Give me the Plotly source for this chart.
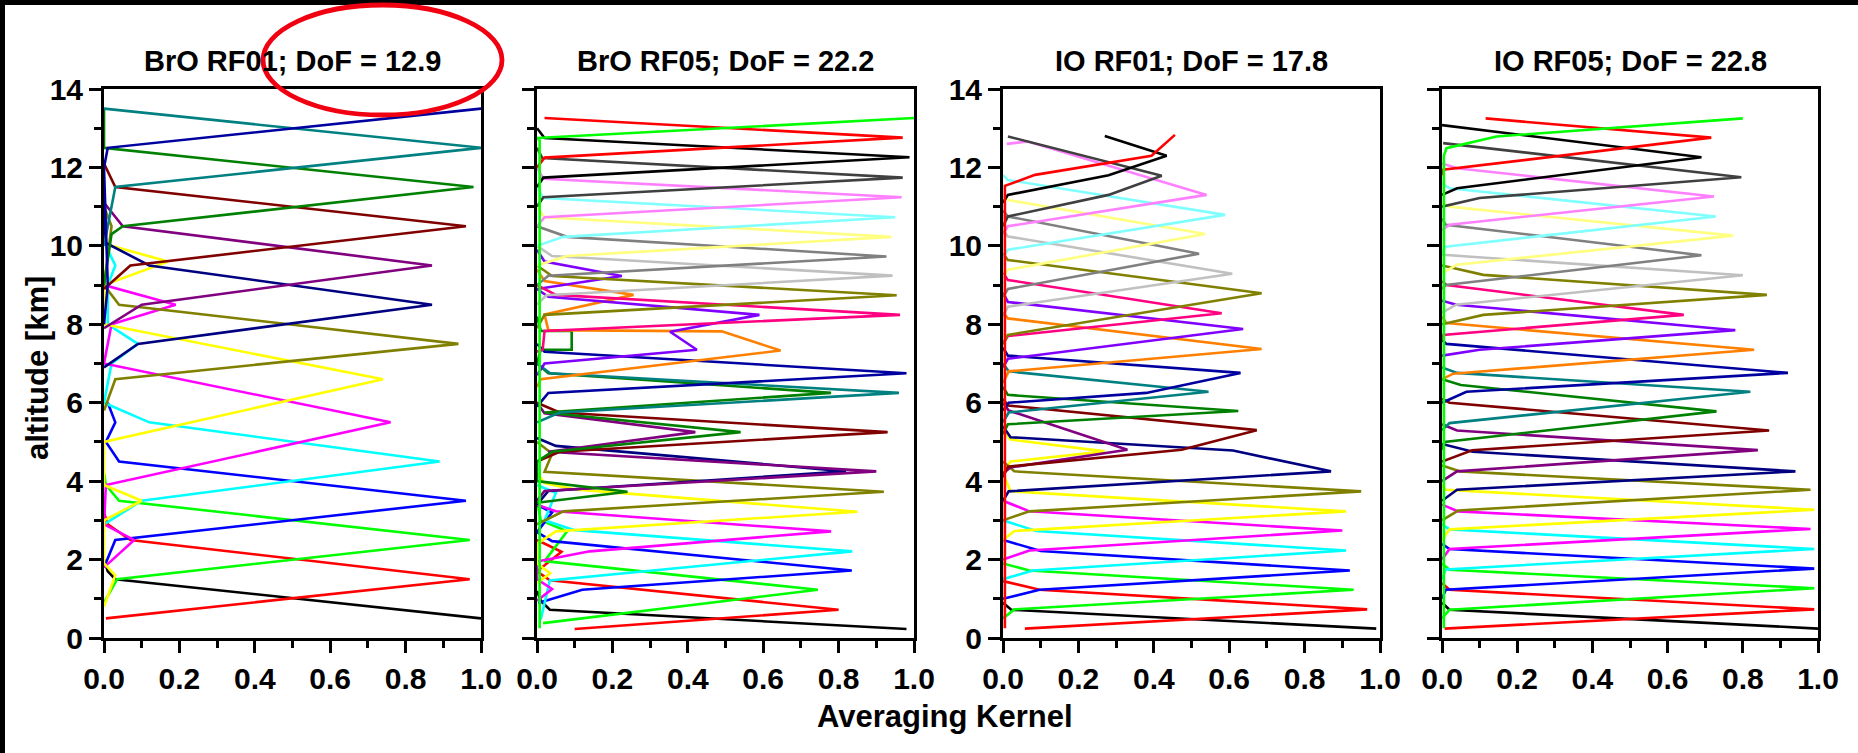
import plotly.graph_objects as go

W, H = 1858, 753
FONT = "Liberation Sans, Arial, sans-serif"

# Origin-style increment colours, one per retrieval level (bottom to top)
COLORS = ["#000000", "#FF0000", "#00FF00", "#0000FF", "#00FFFF", "#FF00FF", "#FFFF00",
          "#808000", "#000080", "#800080", "#800000", "#008000", "#008080", "#0000A0",
          "#FF8000", "#8000FF", "#FF0080", "#808000", "#C0C0C0", "#808080", "#FFFF80",
          "#80FFFF", "#FF80FF", "#404040", "#000000", "#FF0000", "#00FF00"]

TITLES = ["BrO RF01; DoF = 12.9", "BrO RF05; DoF = 22.2", "IO RF01; DoF = 17.8", "IO RF05; DoF = 22.8"]
X_TICKS = [0.0, 0.2, 0.4, 0.6, 0.8, 1.0]
Y_TICKS = [0, 2, 4, 6, 8, 10, 12, 14]

# Averaging-kernel curves: (AK value, altitude km) points, one curve per level
BRO_RF01 = [
    [(1.00, 0.5), (0.03, 1.5), (0.01, 1.7), (0.0, 2.0)],
    [(0.005, 0.5), (0.97, 1.5), (0.07, 2.5), (0.01, 2.9), (0.0, 3.2)],
    [(0.0, 0.9), (0.035, 1.5), (0.97, 2.5), (0.04, 3.5), (0.005, 3.9), (0.0, 4.2)],
    [(0.0, 1.8), (0.03, 2.5), (0.96, 3.5), (0.04, 4.5), (0.005, 5.0), (0.03, 5.5), (0.01, 6.0)],
    [(0.0, 2.9), (0.10, 3.5), (0.89, 4.5), (0.12, 5.5), (0.0, 6.0), (0.02, 7.0), (0.09, 7.5),
     (0.01, 8.0), (0.01, 9.0), (0.03, 9.5), (0.0, 10.1)],
    [(0.0, 1.8), (0.08, 2.5), (0.0, 2.9), (0.005, 3.9), (0.76, 5.5), (0.0, 7.0), (0.02, 8.0),
     (0.19, 8.5), (0.0, 9.0)],
    [(0.0, 0.8), (0.03, 1.6), (0.0, 1.9), (0.0, 3.0), (0.10, 3.5), (0.0, 3.9), (0.0, 5.0),
     (0.74, 6.6), (0.0, 8.0), (0.0, 9.0), (0.17, 9.6), (0.02, 10.0)],
    [(0.0, 5.8), (0.03, 6.6), (0.94, 7.5), (0.04, 8.5), (0.0, 9.0), (0.02, 10.5), (0.0, 11.0)],
    [(0.0, 6.9), (0.09, 7.5), (0.87, 8.5), (0.12, 9.5), (0.0, 10.1), (0.0, 11.0)],
    [(0.0, 7.9), (0.10, 8.5), (0.87, 9.5), (0.05, 10.5), (0.0, 11.1)],
    [(0.0, 8.9), (0.07, 9.5), (0.96, 10.5), (0.03, 11.5), (0.0, 12.1)],
    [(0.0, 9.0), (0.02, 10.3), (0.05, 10.5), (0.98, 11.5), (0.0, 12.5), (0.0, 13.5)],
    [(0.0, 10.0), (0.03, 11.5), (1.0, 12.5), (0.0, 13.5)],
    [(0.0, 8.0), (0.01, 9.0), (0.0, 12.0), (0.01, 12.5), (1.0, 13.5)],
]

BRO_RF05 = [
    [(0.98, 0.23), (0.034, 0.72), (0.01, 0.95), (0.0, 1.2)],
    [(0.10, 0.23), (0.80, 0.72), (0.034, 1.47), (0.0, 1.7), (0.065, 2.2), (0.0, 2.5)],
    [(0.016, 0.38), (0.745, 1.23), (0.02, 1.96), (0.08, 2.72), (0.01, 3.0), (0.0, 3.5)],
    [(0.003, 0.89), (0.12, 1.23), (0.835, 1.72), (0.04, 2.47), (0.0, 2.7), (0.04, 3.2), (0.0, 3.4)],
    [(0.01, 0.47), (0.034, 1.47), (0.836, 2.21), (0.10, 2.75), (0.02, 3.0), (0.05, 3.7), (0.0, 3.9)],
    [(0.0, 0.95), (0.04, 1.25), (0.0, 1.5), (0.0, 1.95), (0.14, 2.21), (0.78, 2.72), (0.05, 3.23), (0.0, 3.4)],
    [(0.0, 1.4), (0.035, 1.65), (0.0, 1.9), (0.0, 2.4), (0.05, 2.72), (0.85, 3.22), (0.10, 3.79),
     (0.02, 3.95), (0.0, 4.2)],
    [(0.0, 2.9), (0.07, 3.23), (0.92, 3.73), (0.02, 4.24), (0.04, 4.7), (0.0, 5.0)],
    [(0.0, 3.4), (0.03, 3.75), (0.82, 4.25), (0.05, 4.9), (0.0, 5.1)],
    [(0.0, 3.5), (0.02, 3.75), (0.90, 4.25), (0.03, 4.75), (0.42, 5.25), (0.02, 5.73), (0.0, 6.0)],
    [(0.0, 4.5), (0.06, 4.75), (0.93, 5.25), (0.06, 5.75), (0.0, 6.0)],
    [(0.0, 3.45), (0.24, 3.73), (0.0, 4.0), (0.0, 4.5), (0.04, 4.75), (0.54, 5.25), (0.02, 5.75),
     (0.78, 6.25), (0.03, 6.75), (0.0, 7.0), (0.01, 7.35), (0.092, 7.35), (0.092, 7.83),
     (0.01, 7.83), (0.0, 8.2)],
    [(0.0, 5.5), (0.06, 5.75), (0.96, 6.25), (0.035, 6.75), (0.0, 7.0)],
    [(0.0, 5.9), (0.03, 6.25), (0.98, 6.75), (0.02, 7.3), (0.0, 7.5)],
    [(0.0, 6.4), (0.01, 6.6), (0.646, 7.33), (0.49, 7.82), (0.03, 7.85), (0.02, 8.25), (0.256, 8.75),
     (0.02, 9.1), (0.0, 9.4)],
    [(0.0, 6.7), (0.02, 7.0), (0.424, 7.35), (0.353, 7.81), (0.59, 8.24), (0.03, 8.7), (0.0, 8.9),
     (0.225, 9.23), (0.02, 9.6), (0.0, 9.9)],
    [(0.0, 7.3), (0.015, 7.35), (0.02, 7.83), (0.963, 8.24), (0.05, 8.75), (0.0, 9.0)],
    [(0.0, 7.9), (0.02, 8.24), (0.954, 8.74), (0.04, 9.23), (0.0, 9.5)],
    [(0.0, 8.5), (0.025, 8.74), (0.943, 9.24), (0.04, 9.74), (0.0, 10.0)],
    [(0.0, 9.0), (0.03, 9.24), (0.927, 9.73), (0.08, 10.23), (0.0, 10.5)],
    [(0.0, 9.5), (0.08, 9.74), (0.94, 10.23), (0.02, 10.73), (0.0, 11.0)],
    [(0.0, 10.0), (0.07, 10.23), (0.95, 10.73), (0.017, 11.22), (0.0, 11.5)],
    [(0.0, 10.5), (0.02, 10.73), (0.967, 11.24), (0.017, 11.71), (0.0, 12.0)],
    [(0.0, 11.0), (0.017, 11.24), (0.97, 11.74), (0.014, 12.24), (0.0, 12.5)],
    [(0.0, 11.5), (0.017, 11.74), (0.988, 12.26), (0.02, 12.75), (0.0, 13.0)],
    [(0.0, 12.0), (0.02, 12.25), (0.97, 12.76), (0.02, 13.26)],
    [(0.007, 0.25), (0.007, 12.7), (0.0, 12.75), (1.0, 13.26)],
]

IO_RF01 = [
    [(0.99, 0.24), (0.022, 0.72), (0.0, 0.9)],
    [(0.058, 0.24), (0.966, 0.73), (0.097, 1.23), (0.0, 1.45)],
    [(0.0, 0.5), (0.03, 0.73), (0.93, 1.23), (0.07, 1.72), (0.0, 1.9)],
    [(0.0, 1.0), (0.097, 1.23), (0.92, 1.72), (0.10, 2.22), (0.0, 2.5)],
    [(0.0, 1.5), (0.08, 1.72), (0.91, 2.23), (0.088, 2.73), (0.0, 3.0)],
    [(0.0, 2.0), (0.07, 2.23), (0.90, 2.74), (0.07, 3.23), (0.0, 3.5)],
    [(0.0, 2.5), (0.03, 2.73), (0.91, 3.23), (0.02, 3.74), (0.0, 4.2), (0.02, 4.5), (0.27, 4.76),
     (0.02, 5.06), (0.0, 5.3)],
    [(0.0, 3.0), (0.07, 3.23), (0.95, 3.74), (0.03, 4.25), (0.0, 4.5)],
    [(0.0, 3.5), (0.015, 3.74), (0.87, 4.25), (0.61, 4.78), (0.02, 5.12), (0.0, 5.4)],
    [(0.0, 4.2), (0.02, 4.35), (0.33, 4.8), (0.015, 5.8), (0.0, 6.0)],
    [(0.0, 4.1), (0.013, 4.37), (0.474, 4.8), (0.673, 5.3), (0.013, 5.93), (0.0, 6.1)],
    [(0.0, 5.2), (0.013, 5.45), (0.624, 5.79), (0.013, 6.2), (0.0, 6.4)],
    [(0.0, 5.5), (0.015, 5.75), (0.545, 6.28), (0.015, 6.8), (0.0, 7.0)],
    [(0.0, 5.8), (0.015, 6.0), (0.38, 6.25), (0.63, 6.76), (0.013, 7.2), (0.0, 7.4)],
    [(0.0, 6.5), (0.015, 6.8), (0.686, 7.37), (0.013, 8.15), (0.0, 8.3)],
    [(0.0, 6.9), (0.013, 7.12), (0.637, 7.88), (0.013, 8.57), (0.0, 8.8)],
    [(0.0, 7.5), (0.013, 7.7), (0.58, 8.28), (0.013, 9.13), (0.0, 9.3)],
    [(0.0, 7.5), (0.013, 7.73), (0.686, 8.79), (0.013, 9.64), (0.0, 9.8)],
    [(0.0, 8.2), (0.013, 8.45), (0.608, 9.29), (0.013, 10.24), (0.0, 10.4)],
    [(0.0, 8.7), (0.013, 8.9), (0.52, 9.8), (0.013, 10.75), (0.0, 10.9)],
    [(0.0, 9.2), (0.013, 9.39), (0.536, 10.3), (0.013, 11.17), (0.0, 11.3)],
    [(0.0, 9.7), (0.013, 9.9), (0.589, 10.79), (0.013, 11.68), (0.0, 11.8)],
    [(0.0, 10.3), (0.013, 10.5), (0.54, 11.3), (0.066, 12.66), (0.01, 12.6)],
    [(0.0, 10.5), (0.013, 10.75), (0.28, 11.3), (0.421, 11.79), (0.013, 12.79)],
    [(0.0, 11.1), (0.013, 11.3), (0.28, 11.8), (0.434, 12.3), (0.27, 12.8)],
    [(0.005, 0.25), (0.005, 11.53), (0.085, 11.81), (0.394, 12.3), (0.456, 12.83)],
]

IO_RF05 = [
    [(1.0, 0.24), (0.02, 0.72), (0.0, 0.9)],
    [(0.007, 0.24), (0.99, 0.73), (0.02, 1.23), (0.0, 1.4)],
    [(0.0, 0.5), (0.02, 0.72), (0.99, 1.27), (0.02, 1.74), (0.0, 1.9)],
    [(0.0, 1.0), (0.01, 1.23), (0.99, 1.77), (0.02, 2.27), (0.0, 2.4)],
    [(0.0, 1.5), (0.01, 1.75), (0.99, 2.27), (0.02, 2.77), (0.0, 2.9)],
    [(0.0, 2.0), (0.02, 2.27), (0.98, 2.78), (0.043, 3.23), (0.0, 3.4)],
    [(0.0, 2.5), (0.02, 2.77), (0.99, 3.27), (0.01, 3.78), (0.0, 3.9)],
    [(0.0, 3.0), (0.043, 3.25), (0.98, 3.78), (0.047, 4.25), (0.0, 4.4)],
    [(0.0, 3.5), (0.04, 3.78), (0.94, 4.25), (0.082, 4.75), (0.0, 4.95)],
    [(0.0, 4.0), (0.04, 4.25), (0.84, 4.79), (0.04, 5.29), (0.0, 5.45)],
    [(0.0, 4.5), (0.08, 4.79), (0.87, 5.29), (0.02, 6.0), (0.0, 6.1)],
    [(0.0, 4.8), (0.007, 5.0), (0.73, 5.78), (0.05, 6.45), (0.0, 6.6)],
    [(0.0, 5.3), (0.02, 5.48), (0.82, 6.28), (0.04, 6.76), (0.0, 6.9)],
    [(0.0, 6.0), (0.065, 6.28), (0.92, 6.76), (0.012, 7.5), (0.0, 7.6)],
    [(0.0, 6.6), (0.03, 6.74), (0.83, 7.35), (0.012, 8.03), (0.0, 8.2)],
    [(0.0, 7.2), (0.10, 7.35), (0.78, 7.85), (0.038, 8.5), (0.0, 8.6)],
    [(0.0, 7.6), (0.003, 7.73), (0.643, 8.24), (0.012, 9.0), (0.0, 9.1)],
    [(0.0, 8.0), (0.11, 8.24), (0.864, 8.75), (0.11, 9.26), (0.0, 9.5)],
    [(0.0, 8.3), (0.038, 8.5), (0.80, 9.25), (0.003, 9.77), (0.0, 9.9)],
    [(0.0, 8.9), (0.01, 9.0), (0.69, 9.76), (0.01, 10.54), (0.0, 10.7)],
    [(0.0, 9.3), (0.04, 9.52), (0.774, 10.26), (0.02, 11.0), (0.0, 11.1)],
    [(0.0, 9.8), (0.01, 9.98), (0.728, 10.75), (0.02, 11.47), (0.0, 11.6)],
    [(0.0, 10.4), (0.02, 10.54), (0.723, 11.26), (0.04, 11.98), (0.0, 12.1)],
    [(0.0, 11.0), (0.10, 11.22), (0.796, 11.75), (0.003, 12.62)],
    [(0.0, 11.3), (0.04, 11.47), (0.69, 12.26), (0.0, 13.08)],
    [(0.0, 11.8), (0.003, 11.94), (0.716, 12.76), (0.116, 13.25)],
    [(0.005, 0.25), (0.005, 12.3), (0.012, 12.49), (0.145, 12.79), (0.8, 13.25)],
]

PANELS = [BRO_RF01, BRO_RF05, IO_RF01, IO_RF05]
X_EDGES = [(104, 481), (537, 914), (1003, 1380), (1442, 1818)]
Y_TOP, Y_BOT = 89, 638
SHOW_Y_LABELS = [True, False, True, False]

fig = go.Figure()
tickfont = dict(family=FONT, size=30, color="black", weight="bold")
layout = dict(width=W, height=H, autosize=False,
              margin=dict(l=0, r=0, t=0, b=0, pad=0, autoexpand=False),
              paper_bgcolor="white", plot_bgcolor="white", showlegend=False)

for i, kernels in enumerate(PANELS):
    sfx = "" if i == 0 else str(i + 1)
    for k, pts in enumerate(kernels):
        fig.add_trace(go.Scatter(
            x=[p[0] for p in pts], y=[p[1] for p in pts], mode="lines",
            line=dict(color=COLORS[k % len(COLORS)], width=2.6),
            xaxis="x" + sfx, yaxis="y" + sfx, hoverinfo="skip"))
    x0, x1 = X_EDGES[i]
    layout["xaxis" + sfx] = dict(
        domain=[x0 / W, x1 / W], range=[0, 1], anchor="y" + sfx, automargin=False,
        showline=True, linewidth=3, linecolor="black", mirror=True,
        ticks="outside", ticklen=12, tickwidth=3, tickcolor="black",
        tickmode="array", tickvals=X_TICKS, ticktext=["%.1f" % v for v in X_TICKS],
        tickfont=tickfont,
        minor=dict(tickmode="array", tickvals=[0.1, 0.3, 0.5, 0.7, 0.9], ticks="outside",
                   ticklen=7, tickwidth=3, tickcolor="black", showgrid=False),
        showgrid=False, zeroline=False, fixedrange=True)
    layout["yaxis" + sfx] = dict(
        domain=[1 - Y_BOT / H, 1 - Y_TOP / H], range=[0, 14], anchor="x" + sfx, automargin=False,
        showline=True, linewidth=3, linecolor="black", mirror=True,
        ticks="outside", ticklen=12, tickwidth=3, tickcolor="black",
        tickmode="array", tickvals=Y_TICKS, ticktext=[str(v) for v in Y_TICKS],
        showticklabels=SHOW_Y_LABELS[i], tickfont=tickfont,
        minor=dict(tickmode="array", tickvals=[1, 3, 5, 7, 9, 11, 13], ticks="outside",
                   ticklen=7, tickwidth=3, tickcolor="black", showgrid=False),
        showgrid=False, zeroline=False, fixedrange=True)

annotations = []
for i, t in enumerate(TITLES):
    x0, x1 = X_EDGES[i]
    annotations.append(dict(text=t, x=(x0 + x1) / 2 / W, y=1 - 61 / H, xref="paper", yref="paper",
                            xanchor="center", yanchor="middle", showarrow=False,
                            font=dict(family=FONT, size=29, color="black", weight="bold")))
annotations.append(dict(text="altitude [km]", x=37 / W, y=1 - 368 / H, xref="paper", yref="paper",
                        xanchor="center", yanchor="middle", textangle=-90, showarrow=False,
                        font=dict(family=FONT, size=31, color="black", weight="bold")))
annotations.append(dict(text="Averaging Kernel", x=945 / W, y=1 - 716 / H, xref="paper", yref="paper",
                        xanchor="center", yanchor="middle", showarrow=False,
                        font=dict(family=FONT, size=31, color="black", weight="bold")))
layout["annotations"] = annotations
layout["shapes"] = [
    dict(type="rect", xref="paper", yref="paper", x0=0, x1=1, y0=1 - 5 / H, y1=1,
         fillcolor="black", line=dict(width=0), layer="above"),
    dict(type="rect", xref="paper", yref="paper", x0=0, x1=5 / W, y0=0, y1=1,
         fillcolor="black", line=dict(width=0), layer="above"),
    # red hand-drawn highlight ellipse around the first panel's DoF value
    dict(type="circle", xref="paper", yref="paper", x0=263 / W, x1=502 / W,
         y0=1 - 115 / H, y1=1 - 5 / H, line=dict(color="#F00010", width=4.8),
         fillcolor="rgba(0,0,0,0)", layer="above"),
]
fig.update_layout(**layout)
fig.write_html("out.html")
